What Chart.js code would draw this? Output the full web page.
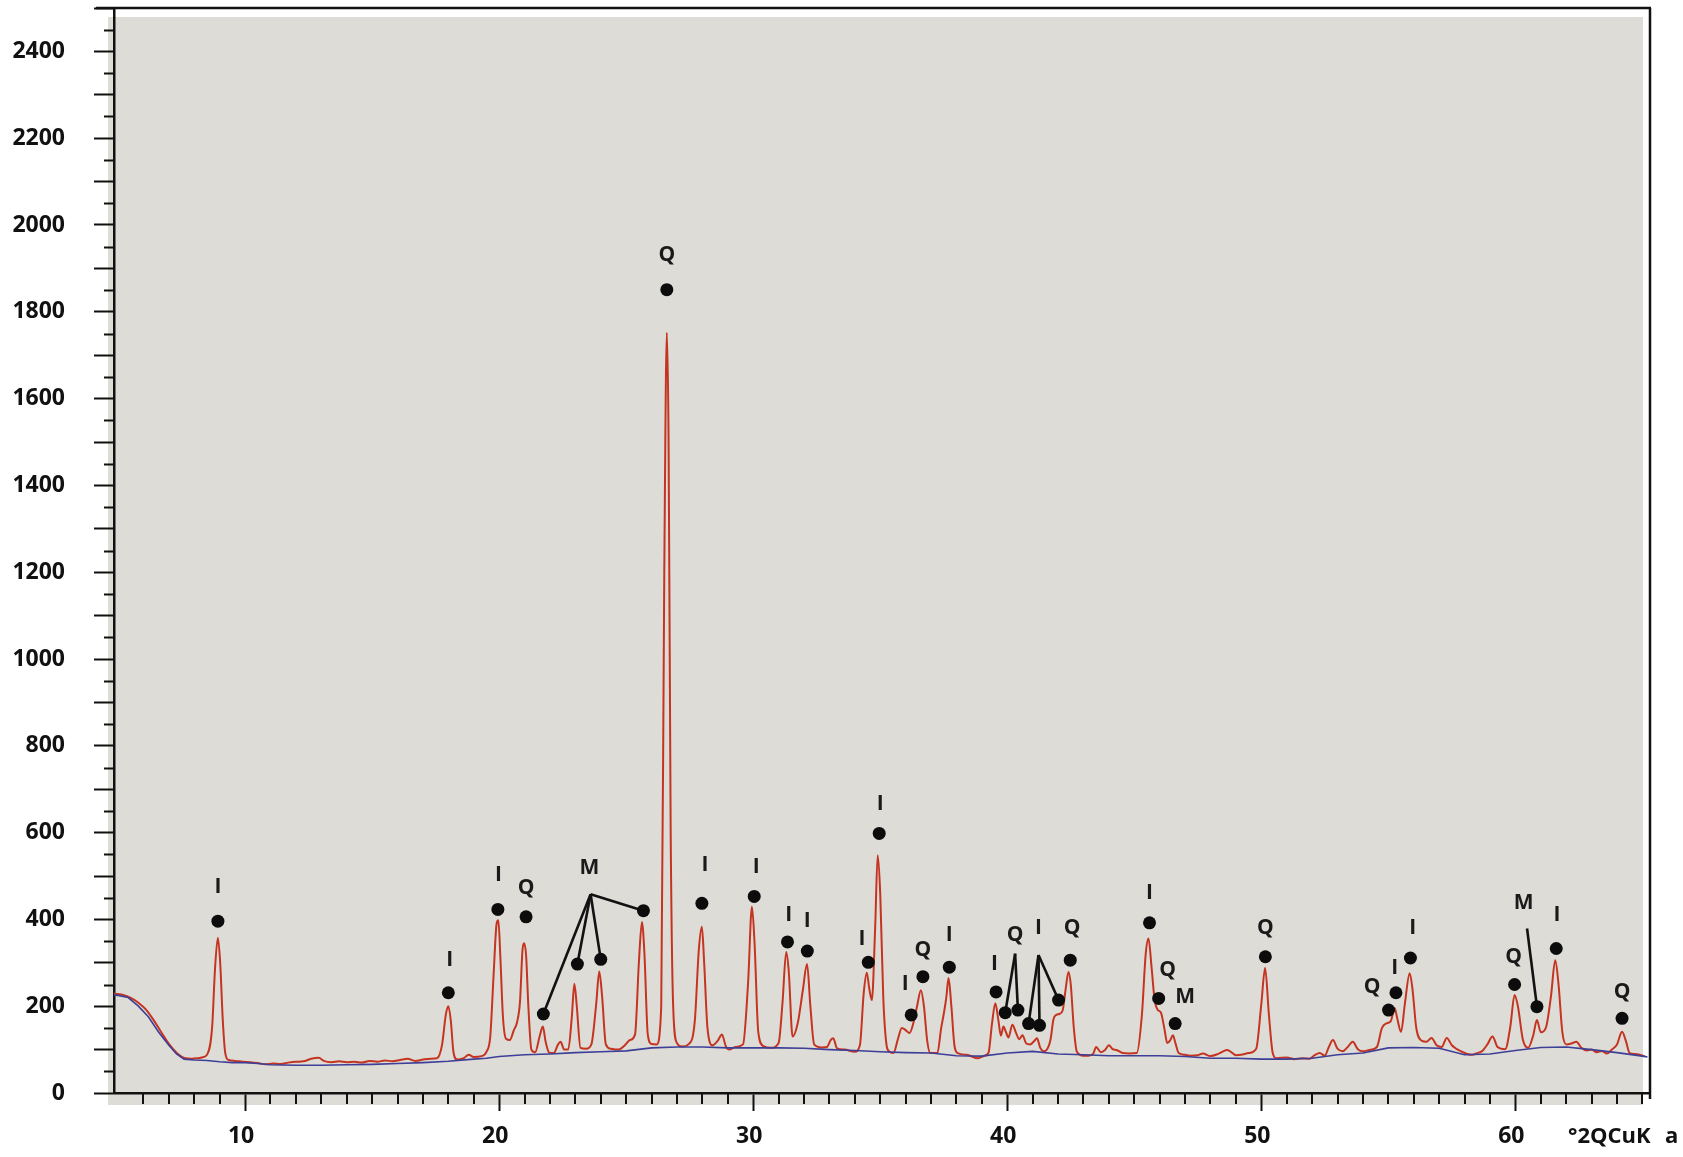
<!DOCTYPE html>
<html><head><meta charset="utf-8">
<script src="https://cdn.jsdelivr.net/npm/chart.js@4/dist/chart.umd.min.js"></script>
<style>html,body{margin:0;padding:0;background:#fff;}canvas{display:block;}</style>
</head><body>
<canvas id="c" width="1683" height="1157" style="width:1683px;height:1157px"></canvas>
<script>
// ---- measured diffractogram: [°2θ, counts]
const measuredScan = [
[4.84,229],[5.0,228],[5.2,226],[5.5,219],[5.8,208],[6.1,192],[6.4,168],[6.7,140],[7.0,113],[7.3,93],[7.6,81],[7.9,79],[8.1,80],[8.3,82],[8.5,88],[8.7,150],[8.82,290],[8.93,358],[9.02,300],[9.12,170],[9.22,92],[9.35,76],[9.6,74],[9.9,72],
[10.2,71],[10.5,69],[10.8,66],[11.1,68],[11.4,67],[11.7,70],[12.0,72],[12.3,73],[12.6,79],[12.9,81],[13.1,74],[13.4,71],[13.7,73],[14.0,71],[14.3,72],[14.6,70],[14.9,74],[15.2,72],[15.5,75],[15.8,73],[16.1,76],[16.4,79],[16.7,74],[17.0,77],[17.3,79],
[17.55,80],[17.75,110],[17.9,180],[18.0,200],[18.1,165],[18.2,95],[18.35,77],[18.6,80],[18.8,88],[19.0,83],[19.3,85],[19.5,95],[19.65,130],[19.78,270],[19.9,390],[19.97,398],[20.05,310],[20.15,175],[20.27,125],[20.42,122],[20.58,145],[20.7,162],[20.82,210],[20.92,330],[20.98,345],[21.06,318],[21.15,200],[21.27,100],[21.42,94],[21.6,132],[21.72,153],[21.83,118],[21.97,93],[22.15,92],[22.32,112],[22.42,118],[22.56,100],[22.72,100],[22.86,175],[22.96,252],[23.05,205],[23.2,104],[23.42,102],[23.63,112],[23.82,205],[23.94,280],[24.05,225],[24.2,112],[24.4,102],[24.7,100],[24.95,110],[25.15,122],[25.35,135],[25.5,300],[25.62,394],[25.72,320],[25.85,135],[26.0,113],[26.2,112],[26.38,200],[26.5,1200],[26.6,1752],[26.67,1500],[26.75,620],[26.85,200],[27.0,115],[27.2,107],[27.45,112],[27.7,165],[27.86,330],[27.98,383],[28.07,300],[28.2,150],[28.4,110],[28.6,120],[28.77,135],[28.92,108],[29.05,100],[29.3,106],[29.6,112],[29.8,255],[29.95,429],[30.05,350],[30.2,140],[30.4,108],[30.7,104],[31.0,115],[31.15,205],[31.3,325],[31.4,280],[31.55,130],[31.75,160],[31.95,235],[32.12,297],[32.25,200],[32.4,112],[32.7,105],[32.9,106],[33.05,122],[33.15,126],[33.3,103],[33.6,100],[34.0,95],[34.2,110],[34.35,230],[34.47,277],[34.57,240],[34.67,214],[34.8,380],[34.9,548],[35.0,460],[35.12,220],[35.25,110],[35.35,96],[35.52,92],[35.7,125],[35.85,150],[36.0,145],[36.15,138],[36.3,160],[36.45,200],[36.6,237],[36.72,200],[36.85,120],[36.97,92],[37.25,92],[37.4,150],[37.5,182],[37.6,220],[37.69,265],[37.8,200],[37.92,110],[38.05,92],[38.4,88],[38.85,80],[39.1,86],[39.26,92],[39.4,160],[39.53,207],[39.65,168],[39.75,132],[39.85,153],[39.95,140],[40.05,128],[40.2,157],[40.35,138],[40.47,124],[40.6,133],[40.75,114],[40.9,112],[41.05,119],[41.17,126],[41.3,104],[41.45,96],[41.6,104],[41.7,122],[41.82,170],[41.93,180],[42.05,182],[42.18,190],[42.3,240],[42.41,279],[42.5,250],[42.62,150],[42.74,95],[43.0,86],[43.2,86],[43.38,90],[43.5,106],[43.68,94],[43.85,99],[44.0,110],[44.15,101],[44.3,99],[44.55,92],[44.8,91],[45.1,92],[45.3,180],[45.45,320],[45.56,356],[45.68,290],[45.8,215],[45.92,192],[46.05,185],[46.18,150],[46.3,115],[46.42,122],[46.52,133],[46.62,115],[46.75,92],[47.0,88],[47.2,86],[47.5,87],[47.7,91],[48.0,85],[48.3,90],[48.5,96],[48.65,99],[48.8,95],[49.0,87],[49.2,88],[49.5,92],[49.8,102],[50.0,205],[50.15,288],[50.3,180],[50.45,92],[50.6,80],[51.0,82],[51.3,78],[51.6,80],[51.9,79],[52.1,87],[52.3,92],[52.5,86],[52.65,105],[52.82,122],[53.0,102],[53.2,96],[53.4,106],[53.6,118],[53.8,101],[54.0,96],[54.25,99],[54.55,106],[54.75,150],[54.95,161],[55.1,166],[55.25,196],[55.35,172],[55.5,141],[55.65,205],[55.84,276],[55.95,240],[56.1,150],[56.3,121],[56.5,118],[56.7,127],[56.9,110],[57.1,106],[57.3,127],[57.5,110],[57.7,101],[57.9,95],[58.1,90],[58.3,88],[58.5,92],[58.7,97],[58.9,112],[59.1,130],[59.3,106],[59.6,101],[59.8,152],[59.97,226],[60.1,200],[60.3,122],[60.5,104],[60.7,132],[60.85,168],[61.0,140],[61.2,150],[61.4,222],[61.57,306],[61.7,250],[61.85,140],[62.0,112],[62.2,114],[62.4,118],[62.6,104],[62.8,98],[63.0,100],[63.2,94],[63.4,97],[63.6,91],[63.8,100],[64.0,112],[64.2,141],[64.35,120],[64.5,92],[64.7,90],[64.9,88],[65.1,84]
];
// ---- fitted background: [°2θ, counts]
const backgroundFit = [
[4.84,226],[5.0,225],[5.4,220],[5.8,200],[6.2,175],[6.6,140],[7.0,110],[7.3,90],[7.6,78],[8.0,76],[8.5,75],[9.0,72],[9.5,70],[10.0,70],[10.5,68],[11.0,65],[12,64],[13,64],[14,65],[15,66],[16,68],[17,70],[18,73],[19,78],[19.5,80],[20,84],[21,88],[22,90],[23,93],[24,95],[25,97],[26,104],[27,106],[28,106],[29,104],[30,104],[31,104],[32,103],[33,100],[34,98],[35,95],[36,93],[37,92],[38,86],[39,85],[40,92],[41,96],[42,90],[43,88],[44,86],[45,86],[46,86],[47,84],[48,80],[49,80],[50,78],[51,78],[52,80],[53,88],[54,92],[55,104],[56,105],[57,103],[58,88],[59,90],[60,98],[61,105],[62,106],[63,100],[64,93],[65,85],[65.2,83]
];
// ---- identified peaks (I = illite, Q = quartz, M = mica/other)
const peakTheta  = [8.93,18.0,19.95,21.06,21.74,23.08,24.0,25.68,26.6,27.98,30.04,31.35,32.13,34.53,34.96,36.22,36.68,37.72,39.56,39.92,40.42,40.84,41.27,42.02,42.48,45.6,45.96,46.61,50.16,55.01,55.3,55.87,59.97,60.85,61.61,64.2];
const peakCounts = [396,231,423,406,182,297,308,420,1851,437,453,348,327,301,598,180,268,290,233,185,191,160,156,214,306,392,218,160,314,191,231,311,250,199,333,172];
const peakPhase  = ['I','I','I','Q','','','','','Q','I','I','I','I','I','I','I','Q','I','I','','','','','','Q','I','Q','M','Q','Q','I','I','Q','','I','Q'];
const labelTheta  = [8.93,18.05,19.97,21.06,null,null,null,null,26.6,28.1,30.12,31.4,32.13,34.28,35.0,35.98,36.68,37.72,39.5,null,null,null,null,null,42.55,45.6,46.31,47.0,50.16,54.36,55.25,55.96,59.93,null,61.64,64.2];
const labelCounts = [475,306,502,472,null,null,null,null,1931,525,521,410,396,355,667,252,329,364,298,null,null,null,null,null,379,460,283,222,379,244,287,379,314,null,410,233];
// ---- grouped call-outs: label position, line apex, target peak indices
const calloutPhase  = ['M','Q','I','M'];
const calloutLabel  = [[23.55,518],[40.31,364],[41.23,379],[60.33,437]];
const calloutApex   = [[23.6,458],[40.31,321],[41.23,318],[60.46,379]];
const calloutPeaks  = [[4,5,6,7],[19,20],[21,22,23],[33]];
// ---- axis ticks
const xTickLabels = [10,20,30,40,50,60];
const yTickLabels = [0,200,400,600,800,1000,1200,1400,1600,1800,2000,2200,2400];
const xAxisTitle = '°2QCuK';
const xAxisTitleTail = 'a';

const TEXT_FONT = '"Open Sans", "Noto Sans", sans-serif';

const datasets = [];
calloutApex.forEach((apex, g) => {
  calloutPeaks[g].forEach(pi => {
    datasets.push({
      data: [{x: apex[0], y: apex[1]}, {x: peakTheta[pi], y: peakCounts[pi]}],
      showLine: true, borderColor: '#121212', borderWidth: 2.6, pointRadius: 0, order: 1
    });
  });
});
datasets.push({
  data: peakTheta.map((t, i) => ({x: t, y: peakCounts[i]})),
  showLine: false, pointRadius: 6.5, pointHoverRadius: 6.5, backgroundColor: '#0c0c0c', borderWidth: 0, order: 0
});
datasets.push({
  data: backgroundFit.map(([x, y]) => ({x, y})),
  showLine: true, borderColor: '#3d3f98', borderWidth: 1.6, pointRadius: 0, order: 2
});
datasets.push({
  data: measuredScan.map(([x, y]) => ({x, y})),
  showLine: true, borderColor: '#c43421', borderWidth: 2, pointRadius: 0, order: 3,
  cubicInterpolationMode: 'monotone'
});

const paperPlugin = {
  id: 'paper',
  beforeDraw(chart) {
    const {ctx, chartArea: a} = chart;
    ctx.save();
    ctx.fillStyle = '#ffffff';
    ctx.fillRect(0, 0, chart.width, chart.height);
    ctx.fillStyle = '#dedcd6';
    ctx.fillRect(a.left - 6, a.top + 9, (a.right - 7) - (a.left - 6), (a.bottom + 12) - (a.top + 9));
    ctx.restore();
  },
  afterDraw(chart) {
    const {ctx, chartArea: a, scales: {x, y}} = chart;
    ctx.save();
    ctx.strokeStyle = '#111';
    ctx.lineCap = 'butt';
    ctx.lineWidth = 2.5;
    ctx.beginPath();
    ctx.moveTo(a.left - 18, a.top); ctx.lineTo(a.right + 1, a.top);
    ctx.moveTo(a.right, a.top); ctx.lineTo(a.right, a.bottom + 6);
    ctx.stroke();
    ctx.lineWidth = 2;
    ctx.beginPath();
    for (let v = 50; v <= 2500; v += 100) {
      const py = Math.round(y.getPixelForValue(v)) + 0.5;
      ctx.moveTo(a.left - 10, py); ctx.lineTo(a.left, py);
    }
    for (let v = 6; v <= 65; v += 1) {
      if (v % 10 === 0) continue;
      const px = Math.round(x.getPixelForValue(v));
      ctx.moveTo(px, a.bottom); ctx.lineTo(px, a.bottom + 11);
    }
    ctx.stroke();
    ctx.fillStyle = '#1a1a1a';
    ctx.font = 'bold 21px ' + TEXT_FONT;
    ctx.textAlign = 'center';
    ctx.textBaseline = 'middle';
    peakPhase.forEach((p, i) => {
      if (!p || labelTheta[i] == null) return;
      ctx.fillText(p, x.getPixelForValue(labelTheta[i]), y.getPixelForValue(labelCounts[i]));
    });
    calloutPhase.forEach((p, g) => {
      ctx.fillText(p, x.getPixelForValue(calloutLabel[g][0]), y.getPixelForValue(calloutLabel[g][1]));
    });
    ctx.fillStyle = '#111';
    ctx.font = 'bold 22px ' + TEXT_FONT;
    ctx.textAlign = 'left';
    ctx.fillText(xAxisTitle, a.right - 82, a.bottom + 44);
    ctx.fillText(xAxisTitleTail, a.right + 15, a.bottom + 44);
    ctx.restore();
  }
};

new Chart(document.getElementById('c'), {
  type: 'scatter',
  data: {datasets},
  options: {
    responsive: false,
    animation: false,
    devicePixelRatio: 1,
    layout: {padding: {left: 0, right: 33, top: 8, bottom: 0}},
    plugins: {legend: {display: false}, tooltip: {enabled: false}},
    elements: {line: {tension: 0}},
    scales: {
      x: {
        type: 'linear', min: 4.84, max: 65.3,
        afterFit: s => { s.height = 64; s.paddingLeft = 0; s.paddingRight = 0; },
        ticks: {
          stepSize: 10, includeBounds: false, autoSkip: false, maxRotation: 0, labelOffset: -4,
          padding: 12, color: '#111', font: {family: TEXT_FONT, size: 23, weight: 'bold'},
          callback: v => xTickLabels.includes(v) ? String(v) : ''
        },
        grid: {drawOnChartArea: false, drawTicks: true, tickLength: 18, tickColor: '#111', tickWidth: 2},
        border: {display: true, color: '#111', width: 2.5}
      },
      y: {
        type: 'linear', min: 0, max: 2500,
        afterFit: s => { s.width = 114; s.paddingTop = 0; s.paddingBottom = 0; },
        ticks: {
          stepSize: 100, includeBounds: false, autoSkip: false,
          padding: 29, color: '#111', font: {family: TEXT_FONT, size: 23, weight: 'bold'},
          callback: v => yTickLabels.includes(v) ? String(v) : ''
        },
        grid: {drawOnChartArea: false, drawTicks: true, tickLength: 20, tickColor: '#111', tickWidth: 2},
        border: {display: true, color: '#111', width: 2.5}
      }
    }
  },
  plugins: [paperPlugin]
});
</script>
</body></html>
